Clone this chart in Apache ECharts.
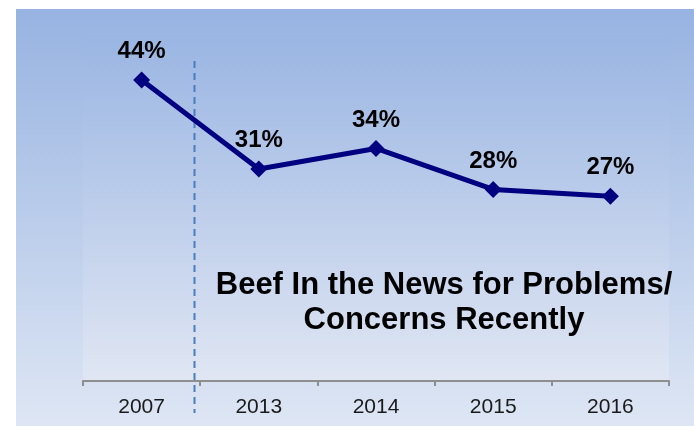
<!DOCTYPE html>
<html>
<head>
<meta charset="utf-8">
<script src="https://cdn.jsdelivr.net/npm/echarts@6/dist/echarts.min.js"></script>
<style>
  html, body { margin: 0; padding: 0; background: #ffffff; }
  #chart { width: 694px; height: 426px; }
</style>
</head>
<body>
<div id="chart"></div>
<script>
// Survey years and share of respondents who heard beef in the news for problems/concerns
const years = ['2007', '2013', '2014', '2015', '2016'];
const shares = [44, 31, 34, 28, 27];
const titleLines = ['Beef In the News for Problems/', 'Concerns Recently'];

const chart = echarts.init(document.getElementById('chart'), null, { renderer: 'canvas' });

const option = {
  animation: false,
  backgroundColor: '#ffffff',
  graphic: [
    {
      id: 'backdrop',
      type: 'rect',
      z: -10,
      shape: { x: 16, y: 9, width: 678, height: 417 },
      style: {
        fill: new echarts.graphic.LinearGradient(0, 0, 0, 1, [
          { offset: 0, color: '#97b3e1' },
          { offset: 1, color: '#dee6f4' }
        ])
      },
      silent: true
    }
  ],
  title: {
    text: titleLines.join('\n'),
    left: 439,
    top: 263,
    textAlign: 'center',
    textStyle: {
      fontFamily: 'Liberation Sans, Arial, sans-serif',
      fontSize: 31,
      fontWeight: 'bold',
      color: '#000000',
      lineHeight: 35
    }
  },
  grid: {
    left: 83,
    right: 25,
    top: 39,
    bottom: 45,
    show: true,
    borderWidth: 0,
    backgroundColor: {
      type: 'linear', x: 0, y: 0, x2: 0, y2: 1,
      colorStops: [
        { offset: 0, color: '#9bb6e3' },
        { offset: 1, color: '#e0e6f3' }
      ]
    }
  },
  xAxis: {
    type: 'category',
    data: years,
    boundaryGap: true,
    axisLine: { show: true, lineStyle: { color: '#8e8e8e', width: 2 } },
    axisTick: { show: true, length: 5, lineStyle: { color: '#8e8e8e', width: 2 } },
    axisLabel: {
      margin: 16,
      fontFamily: 'Liberation Sans, Arial, sans-serif',
      fontSize: 21,
      color: '#1a1a1a'
    },
    splitLine: { show: false }
  },
  yAxis: {
    type: 'value',
    min: 0,
    max: 50,
    show: false
  },
  series: [
    {
      type: 'line',
      data: shares,
      symbol: 'diamond',
      symbolSize: 17,
      lineStyle: { color: '#000080', width: 5 },
      itemStyle: { color: '#000080' },
      label: {
        show: true,
        position: 'top',
        distance: 8,
        formatter: p => p.value + '%',
        fontFamily: 'Liberation Sans, Arial, sans-serif',
        fontSize: 24,
        fontWeight: 'bold',
        color: '#000000'
      },
      z: 5
    }
  ]
};

chart.setOption(option);

// Dashed separator between the 2007 baseline and the later survey years
const x0 = chart.convertToPixel({ xAxisIndex: 0 }, years[0]);
const x1 = chart.convertToPixel({ xAxisIndex: 0 }, years[1]);
const sepX = Math.round(x0 + (x1 - x0) * 0.45) + 0.5;
const yTop = chart.convertToPixel({ yAxisIndex: 0 }, 46.8);
chart.setOption({
  graphic: [
    {
      id: 'separator',
      type: 'line',
      z: 3,
      shape: { x1: sepX, y1: yTop, x2: sepX, y2: 413 },
      style: { stroke: '#4a7dbd', lineWidth: 2, lineDash: [7, 5] },
      silent: true
    }
  ]
});
</script>
</body>
</html>
